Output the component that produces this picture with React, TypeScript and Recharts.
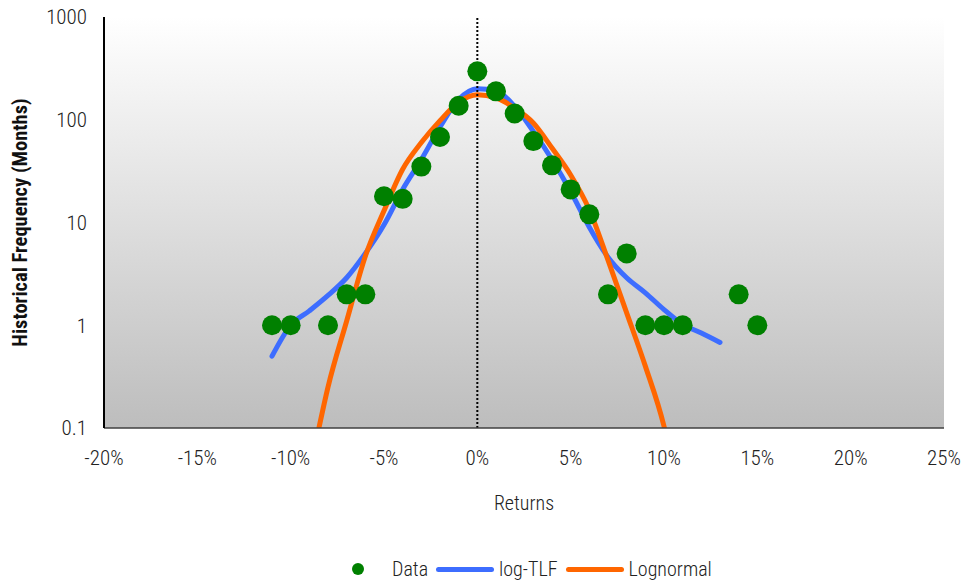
import {
  ComposedChart,
  Line,
  Scatter,
  XAxis,
  YAxis,
  ReferenceLine,
  CartesianGrid,
  Legend,
} from 'recharts';

const FONT =
  "'Liberation Sans Narrow', 'Arial Narrow', 'Roboto Condensed', 'DejaVu Sans Condensed', sans-serif";

// observed monthly returns (%) and their frequency
const DATA_X = [-11, -10, -8, -7, -6, -5, -4, -3, -2, -1, 0, 1, 2, 3, 4, 5, 6, 7, 8, 9, 10, 11, 14, 15];
const DATA_Y = [1, 1, 1, 2, 2, 18, 17, 35, 68, 137, 296, 189, 115, 62, 36, 21, 12, 2, 5, 1, 1, 1, 2, 1];

// log-TLF fit
const TLF_X = [-11, -10, -9, -8, -7, -6, -5, -4, -3, -2, -1, 0, 1, 2, 3, 4, 5, 6, 7, 8, 9, 10, 11, 12, 13];
const TLF_Y = [0.5, 1.0, 1.38, 1.95, 2.9, 5.0, 9.5, 21, 41, 85, 157, 200, 190, 135, 77, 41, 20, 9, 4.6, 2.9, 2.07, 1.42, 1.02, 0.84, 0.68];

// lognormal fit
const LOGN_X = [-8.6, -8, -7, -6, -5, -4, -3, -2, -1, 0, 1, 2, 3, 4, 5, 6, 7, 8, 9, 10, 10.15];
const LOGN_Y = [0.08, 0.25, 1.1, 4.7, 13, 33, 60, 98, 148, 175, 163, 130, 93, 53, 29, 13.3, 4.3, 1.32, 0.4, 0.104, 0.08];

const X_TICKS = [-20, -15, -10, -5, 0, 5, 10, 15, 20, 25];
const Y_TICKS = [0.1, 1, 10, 100, 1000];

const SERIES = [
  { name: 'Data', color: '#008000', kind: 'dot' },
  { name: 'log-TLF', color: '#3d6dff', kind: 'line' },
  { name: 'Lognormal', color: '#ff6600', kind: 'line' },
];

const toPoints = (xs: number[], ys: number[]) => xs.map((x, i) => ({ x, y: ys[i] }));

const dataPoints = toPoints(DATA_X, DATA_Y);
const tlfPoints = toPoints(TLF_X, TLF_Y);
const lognPoints = toPoints(LOGN_X, LOGN_Y);

const tickStyle = { fill: '#222', fontSize: 21, fontFamily: FONT, fontWeight: 300 };

function renderLegend() {
  return (
    <div
      style={{
        height: 63,
        display: 'flex',
        alignItems: 'center',
        paddingLeft: 329,
        paddingTop: 39,
        boxSizing: 'border-box',
        fontFamily: FONT,
        fontSize: 20,
        fontWeight: 300,
        color: '#222',
      }}
    >
      {SERIES.map((s) => (
        <div key={s.name} style={{ display: 'flex', alignItems: 'center', marginRight: 8, height: 24 }}>
          <div style={{ width: 58, display: 'flex', justifyContent: 'center', marginRight: 5 }}>
            {s.kind === 'dot' ? (
              <div style={{ width: 12, height: 12, borderRadius: 6, background: s.color }} />
            ) : (
              <div style={{ width: 58, height: 5, borderRadius: 3, background: s.color }} />
            )}
          </div>
          <span>{s.name}</span>
        </div>
      ))}
    </div>
  );
}

export default function App() {
  return (
    <div style={{ position: 'absolute', left: 0, top: 0, background: '#fff' }}>
      <style>{'.recharts-surface g[clip-path] { clip-path: none !important; }'}</style>
      <ComposedChart width={965} height={581} margin={{ top: 17, right: 21, bottom: 0, left: 0 }}>
        <defs>
          <linearGradient id="bgGrad" x1="0" y1="0" x2="0" y2="1">
            <stop offset="0" stopColor="#ffffff" />
            <stop offset="1" stopColor="#bdbdbd" />
          </linearGradient>
        </defs>
        <CartesianGrid horizontal={false} vertical={false} fill="url(#bgGrad)" />
        <XAxis
          type="number"
          dataKey="x"
          domain={[-20, 25]}
          ticks={X_TICKS}
          tickFormatter={(v: number) => `${v}%`}
          tick={tickStyle}
          tickLine={false}
          tickSize={0}
          tickMargin={22}
          axisLine={{ stroke: '#404040', strokeWidth: 1.5 }}
          height={90}
          allowDataOverflow
          label={{
            value: 'Returns',
            position: 'insideBottom',
            offset: 8,
            style: { fill: '#222', fontSize: 20, fontWeight: 300, fontFamily: FONT },
          }}
        />
        <YAxis
          type="number"
          dataKey="y"
          scale="log"
          domain={[0.1, 1000]}
          ticks={Y_TICKS}
          tickFormatter={(v: number) => String(v)}
          tick={tickStyle}
          tickLine={false}
          tickSize={0}
          tickMargin={17}
          axisLine={{ stroke: '#000', strokeWidth: 2 }}
          width={104}
          allowDataOverflow
          label={{
            value: 'Historical Frequency (Months)',
            angle: -90,
            position: 'insideLeft',
            offset: 20,
            style: { textAnchor: 'middle', fontWeight: 'bold', fontSize: 20.5, fill: '#111', fontFamily: FONT },
          }}
        />
        <Legend verticalAlign="bottom" height={63} content={renderLegend} />
        <Line
          data={tlfPoints}
          dataKey="y"
          name="log-TLF"
          type="monotone"
          stroke="#3d6dff"
          strokeWidth={5}
          strokeLinecap="round"
          dot={false}
          activeDot={false}
          isAnimationActive={false}
        />
        <Line
          data={lognPoints}
          dataKey="y"
          name="Lognormal"
          type="monotone"
          stroke="#ff6600"
          strokeWidth={5}
          dot={false}
          activeDot={false}
          isAnimationActive={false}
        />
        <Scatter
          data={dataPoints}
          dataKey="y"
          name="Data"
          fill="#008000"
          shape={(p: any) => <circle cx={p.cx} cy={p.cy} r={10} fill="#008000" />}
          isAnimationActive={false}
        />
        <ReferenceLine x={0} stroke="#000" strokeWidth={2} strokeDasharray="2 2" />
      </ComposedChart>
    </div>
  );
}
